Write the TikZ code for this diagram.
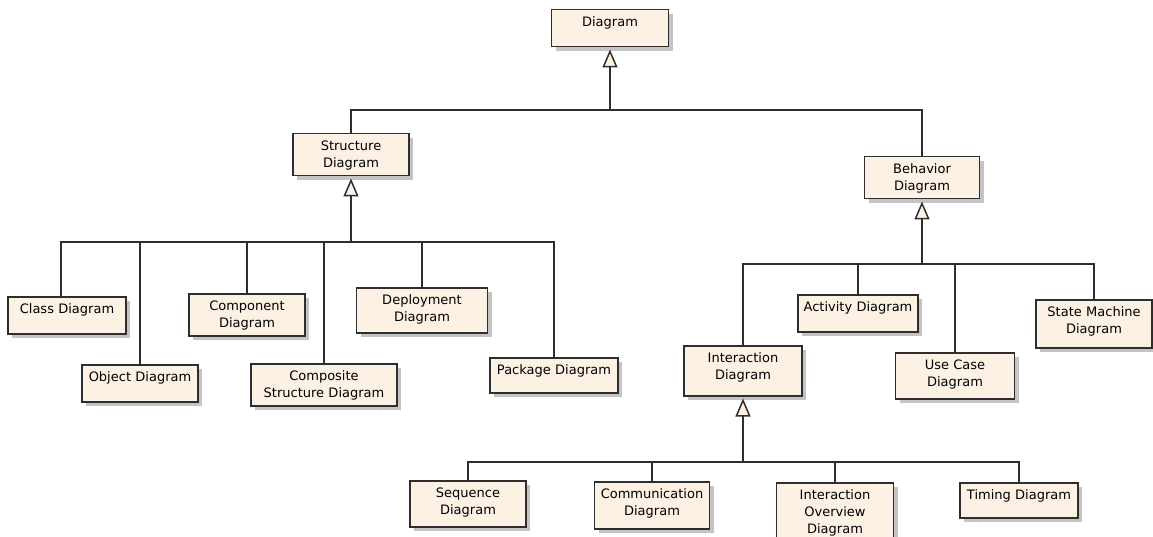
\documentclass[tikz,border=0pt]{standalone}
\usepackage{fontspec}
\usepackage{xcolor}
\usetikzlibrary{arrows.meta, shadows}
\newfontfamily\umlfont{DejaVu Sans}
\definecolor{BoxFill}{HTML}{FCF1E3}
\definecolor{LineDark}{HTML}{2E2E2E}
\definecolor{ShadowGray}{HTML}{C4C4C4}

\begin{document}
\begin{tikzpicture}[
            x=1pt, y=-1pt,
            uml/.style={draw=LineDark, line width=1.5pt, fill=BoxFill, anchor=north, align=center, inner xsep=0pt, inner ysep=0pt, text height=16.5pt, text=black, font=\umlfont\fontsize{13}{17}\selectfont, drop shadow={shadow xshift=4pt, shadow yshift=-4pt, fill=ShadowGray, opacity=1}},
            link/.style={draw=LineDark, line width=1.5pt},
            gen/.style={link, -{Triangle[length=18pt, width=15pt, fill=BoxFill]}, shorten >=2pt}
        ]
            \useasboundingbox (0,0) rectangle (1153,537);

            % top level
            \node[uml, text width=117pt, text depth=20.5pt] (diagram) at (610,9) {Diagram};
            \node[uml, text width=116pt, text depth=25.5pt] (structure) at (351,133) {Structure\\Diagram};
            \node[uml, text width=115pt, text depth=25.5pt] (behavior) at (922,156) {Behavior\\Diagram};

            % structure diagrams
            \node[uml, text width=118pt, text depth=20.5pt] (class) at (67,296) {Class Diagram};
            \node[uml, text width=116pt, text depth=20.5pt] (object) at (140,364) {Object Diagram};
            \node[uml, text width=116pt, text depth=25.5pt] (component) at (247,293) {Component\\Diagram};
            \node[uml, text width=146pt, text depth=25.5pt] (composite) at (324,363) {Composite\\Structure Diagram};
            \node[uml, text width=131pt, text depth=28.5pt] (deployment) at (422,287) {Deployment\\Diagram};
            \node[uml, text width=128pt, text depth=18.5pt] (package) at (554,357) {Package Diagram};

            % behavior diagrams
            \node[uml, text width=118pt, text depth=33.5pt] (interaction) at (743,345) {Interaction\\Diagram};
            \node[uml, text width=120pt, text depth=20.5pt] (activity) at (858,294) {Activity Diagram};
            \node[uml, text width=119pt, text depth=29.5pt] (usecase) at (955,352) {Use Case\\Diagram};
            \node[uml, text width=116pt, text depth=31.5pt] (statemachine) at (1094,299) {State Machine\\Diagram};

            % interaction diagrams
            \node[uml, text width=116pt, text depth=29.5pt] (sequence) at (468,480) {Sequence\\Diagram};
            \node[uml, text width=115pt, text depth=30.5pt] (communication) at (652,481) {Communication\\Diagram};
            \node[uml, text width=117pt, text depth=53.5pt] (overview) at (835,482) {Interaction\\Overview\\Diagram};
            \node[uml, text width=118pt, text depth=18.5pt] (timing) at (1019,482) {Timing Diagram};

            % generalization buses
            \coordinate (topbus) at (610,110);
            \coordinate (structbus) at (351,242);
            \coordinate (behavbus) at (922,264);
            \coordinate (interbus) at (743,462);

            \draw[gen] (topbus) -- (diagram.south);
            \draw[link] (structure.north) |- (topbus);
            \draw[link] (behavior.north) |- (topbus);

            \draw[gen] (structbus) -- (structure.south);
            \draw[link] ([xshift=-6pt]class.north) |- (structbus);
            \foreach \n in {object, component, composite, deployment, package}
                \draw[link] (\n.north) |- (structbus);

            \draw[gen] (behavbus) -- (behavior.south);
            \foreach \n in {interaction, activity, usecase, statemachine}
                \draw[link] (\n.north) |- (behavbus);

            \draw[gen] (interbus) -- (interaction.south);
            \foreach \n in {sequence, communication, overview, timing}
                \draw[link] (\n.north) |- (interbus);

        \end{tikzpicture}
\end{document}
